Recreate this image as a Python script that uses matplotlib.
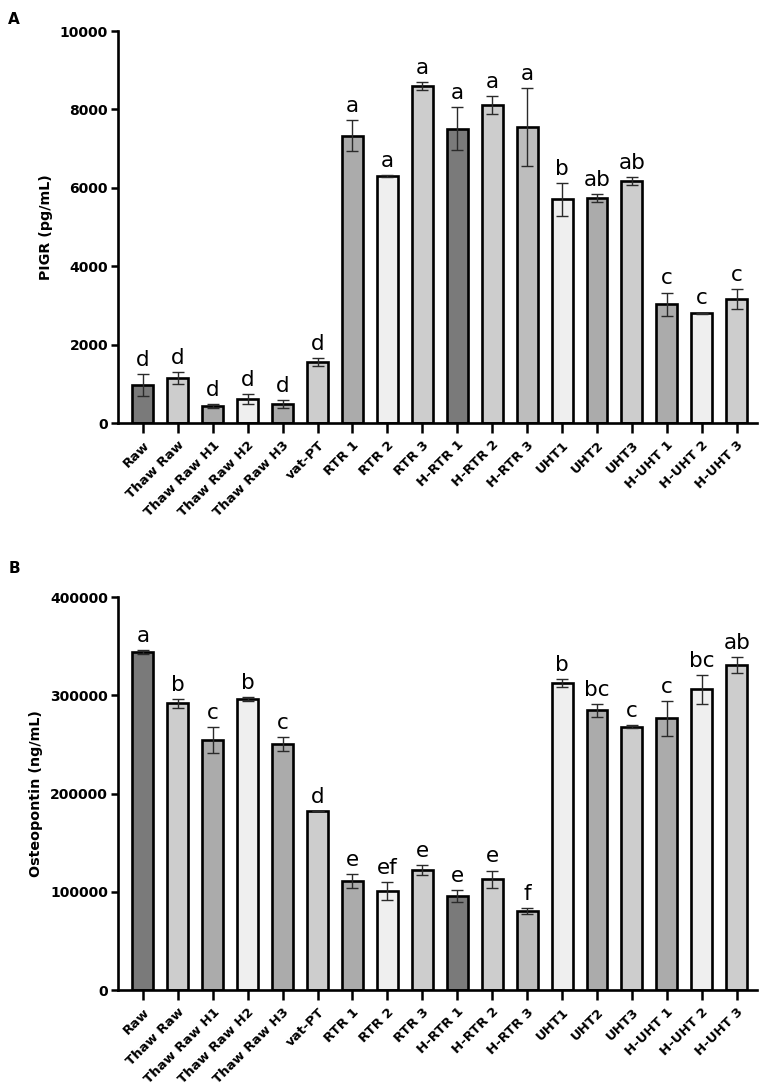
import matplotlib.pyplot as plt
import numpy as np

categories = ['Raw', 'Thaw Raw', 'Thaw Raw H1', 'Thaw Raw H2', 'Thaw Raw H3', 'vat-PT',
              'RTR 1', 'RTR 2', 'RTR 3', 'H-RTR 1', 'H-RTR 2', 'H-RTR 3',
              'UHT1', 'UHT2', 'UHT3', 'H-UHT 1', 'H-UHT 2', 'H-UHT 3']

# Panel A - PIGR (pg/mL)
pigr_mean = [975, 1156, 434, 612, 485, 1548, 7330, 6301, 8605, 7508, 8112, 7551,
             5706, 5740, 6173, 3027, 2798, 3163]
pigr_err = [275, 150, 50, 120, 110, 100, 400, 20, 100, 550, 230, 1000,
            420, 100, 110, 300, 20, 260]
pigr_letters = ['d', 'd', 'd', 'd', 'd', 'd', 'a', 'a', 'a', 'a', 'a', 'a',
                'b', 'ab', 'ab', 'c', 'c', 'c']

# Panel B - Osteopontin (ng/mL)
opn_mean = [344000, 292000, 254600, 296400, 250900, 182600, 111300, 100800, 122200,
            96000, 112700, 80500, 312400, 284900, 268200, 276700, 306300, 331000]
opn_err = [2000, 4500, 13000, 2000, 7000, 0, 7000, 9000, 5000, 6000, 9000, 3000,
           4000, 6500, 1500, 18000, 14500, 8000]
opn_letters = ['a', 'b', 'c', 'b', 'c', 'd', 'e', 'ef', 'e', 'e', 'e', 'f',
               'b', 'bc', 'c', 'c', 'bc', 'ab']

dark, med, light, vlight, mid2 = '#7a7a7a', '#ababab', '#cdcdcd', '#efefef', '#bdbdbd'
fills = [dark, light, med, vlight, med, light, med, vlight, light, dark, light, mid2,
         vlight, med, light, med, vlight, light]

fig = plt.figure(figsize=(7.65, 10.92), dpi=100)
ax_a = fig.add_axes([0.154, 0.6126, 0.836, 0.359])
ax_b = fig.add_axes([0.154, 0.0934, 0.836, 0.3596])

x = np.arange(len(categories))


def draw_panel(ax, mean, err, letters, ymax, step, ylabel):
    ax.bar(x, mean, width=0.6, color=fills, edgecolor='black', linewidth=1.9, zorder=2)
    ax.errorbar(x, mean, yerr=err, fmt='none', ecolor='#2a2a2a', elinewidth=1.0,
                capsize=4.5, capthick=1.0, zorder=3)
    for xi, m, e, lab in zip(x, mean, err, letters):
        ax.annotate(lab, (xi, m + e), xytext=(0, 3), textcoords='offset points',
                    ha='center', va='bottom', fontsize=15.5)
    ax.set_xlim(-0.716, 17.59)
    ax.set_ylim(0, ymax)
    ax.set_yticks(np.arange(0, ymax + 1, step))
    ax.set_xticks(x)
    ax.set_xticklabels(categories, rotation=45, ha='right', va='top',
                       rotation_mode='anchor', fontweight='bold', fontsize=9.5)
    for t in ax.get_yticklabels():
        t.set_fontweight('bold')
    ax.tick_params(axis='y', labelsize=10, width=1.8, length=5, pad=2)
    ax.tick_params(axis='x', width=1.8, length=7, pad=4)
    ax.spines['top'].set_visible(False)
    ax.spines['right'].set_visible(False)
    ax.spines['left'].set_linewidth(1.9)
    ax.spines['bottom'].set_linewidth(1.9)
    ax.set_ylabel(ylabel, fontsize=10.3, fontweight='bold', labelpad=5)


draw_panel(ax_a, pigr_mean, pigr_err, pigr_letters, 10000, 2000, 'PIGR (pg/mL)')
draw_panel(ax_b, opn_mean, opn_err, opn_letters, 400000, 100000, 'Osteopontin (ng/mL)')

fig.text(0.011, 0.982, 'A', fontsize=11, fontweight='bold', va='center')
fig.text(0.011, 0.4795, 'B', fontsize=11, fontweight='bold', va='center')

plt.savefig('out.png', dpi=100)
